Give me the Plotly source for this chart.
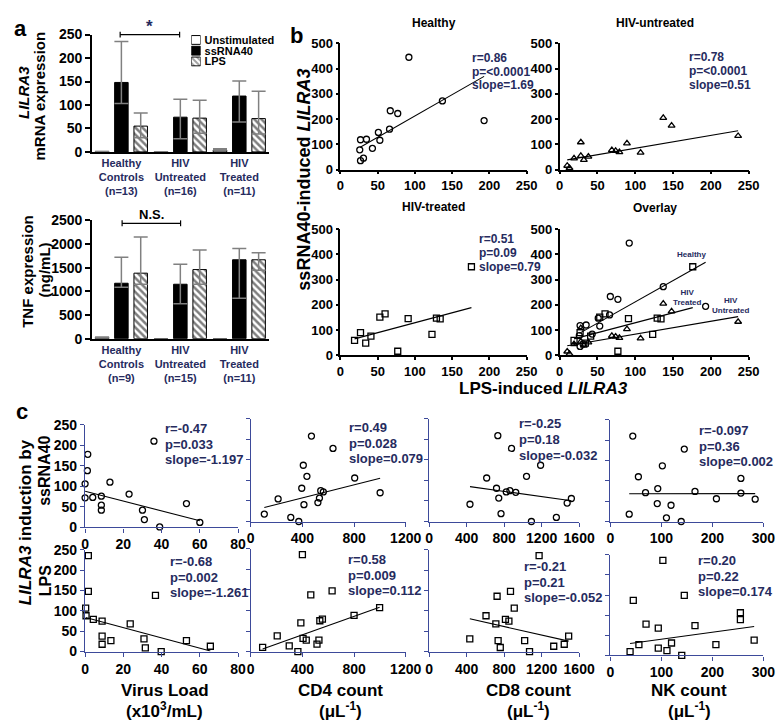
import plotly.graph_objects as go

W, H = 784, 720
FONT = "Liberation Sans, Arial, sans-serif"
NAVY = "#262b5e"
AXBLUE = "#3d4a9a"
ERRGREY = "#808080"

# ---------------- panel a data ----------------
stimuli = ["Unstimulated", "ssRNA40", "LPS"]
groups_mrna = ["Healthy<br>Controls<br>(n=13)", "HIV<br>Untreated<br>(n=16)", "HIV<br>Treated<br>(n=11)"]
groups_tnf = ["Healthy<br>Controls<br>(n=9)", "HIV<br>Untreated<br>(n=15)", "HIV<br>Treated<br>(n=11)"]

mrna_mean = {"Unstimulated": [1, 0.5, 4], "ssRNA40": [148, 74, 119], "LPS": [55, 72, 71]}
mrna_hi = {"Unstimulated": [None, None, 7], "ssRNA40": [235, 112, 151], "LPS": [83, 110, 129]}
mrna_lo = {"Unstimulated": [None, None, 4], "ssRNA40": [103, 28, 64], "LPS": [30, 40, 38]}

tnf_mean = {"Unstimulated": [25, 0, 0], "ssRNA40": [1171, 1150, 1667], "LPS": [1384, 1460, 1667]}
tnf_hi = {"Unstimulated": [35, None, None], "ssRNA40": [1722, 1570, 1908], "LPS": [2149, 1873, 1818]}
tnf_lo = {"Unstimulated": [None, None, None], "ssRNA40": [1088, 737, 854], "LPS": [1150, 1150, 1446]}

# ---------------- panel b data ----------------
healthy_lps = [92, 27, 35, 26, 27, 31, 43, 51, 53, 67, 66, 77, 137, 193]
healthy_ss = [445, 118, 120, 78, 35, 45, 84, 147, 116, 233, 160, 222, 272, 194]
untreated_lps = [10, 13, 19, 28, 28, 32, 38, 69, 74, 79, 89, 107, 137, 148, 236]
untreated_ss = [15, 6, 44, 108, 54, 38, 51, 77, 74, 69, 104, 67, 205, 174, 133]
treated_lps = [19, 27, 34, 41, 53, 60, 77, 91, 123, 129, 134, 176]
treated_ss = [59, 90, 48, 76, 151, 164, 16, 145, 83, 147, 144, 351]
b_fit = {"Healthy": (1.69, 43), "Untreated": (0.51, 33), "Treated": (0.79, 50)}
b_stats = {"Healthy": ["r=0.86", "p=<0.0001", "slope=1.69"],
           "Untreated": ["r=0.78", "p=<0.0001", "slope=0.51"],
           "Treated": ["r=0.51", "p=0.09", "slope=0.79"]}

# ---------------- panel c data ----------------
vl_ss_x = [36, 1.4, 1.2, 0, 0, 4, 8.5, 8.5, 8.5, 13, 23, 30, 31, 39, 53, 60]
vl_ss_y = [210, 178, 138, 106, 72, 73, 76, 54, 42, 110, 81, 42, 19, 1, 58, 12]
cd4_ss_x = [105, 212, 310, 372, 395, 407, 412, 435, 470, 520, 532, 542, 562, 637, 805, 1002]
cd4_ss_y = [18, 55, 10, 0, 81, 137, 41, 110, 208, 46, 57, 75, 72, 178, 106, 70]
cd8_ss_x = [436, 614, 719, 733, 743, 767, 823, 862, 879, 924, 1039, 1091, 1189, 1357, 1472, 1517]
cd8_ss_y = [42, 106, 81, 209, 57, 19, 72, 75, 178, 71, 110, 0, 137, 10, 45, 56]
nk_ss_x = [37, 44, 55, 69, 92, 93, 102, 110, 119, 139, 145, 166, 208, 256, 256, 284]
nk_ss_y = [18, 210, 110, 71, 44, 81, 137, 9, 40, 0, 178, 74, 56, 106, 70, 55]

vl_lps_x = [1.7, 1.7, 0.3, 0.5, 4.3, 8.9, 8.9, 8.9, 13.5, 23.6, 30.8, 31.5, 36.8, 39.8, 53, 65.5]
vl_lps_y = [236, 148, 107, 88, 79, 75, 38, 18, 27, 68, 31, 9, 138, 0, 27, 13]
cd4_lps_x = [92, 205, 298, 365, 388, 400, 405, 430, 465, 513, 528, 535, 555, 630, 800, 998]
cd4_lps_y = [10, 38, 14, 0, 70, 236, 32, 28, 138, 18, 28, 75, 79, 148, 88, 107]
cd8_lps_x = [434, 607, 712, 725, 736, 759, 814, 851, 868, 908, 1019, 1071, 1173, 1329, 1441, 1488]
cd8_lps_y = [31, 88, 68, 136, 27, 10, 79, 75, 148, 107, 27, 0, 236, 13, 18, 38]
nk_lps_x = [38.7, 45, 56, 70, 94, 94, 103, 111, 120, 140, 145, 166, 207, 255, 255, 282]
nk_lps_y = [9.6, 137, 27, 78, 68, 18, 236, 12, 31, 0, 149, 74, 27, 106, 89, 38]

c_fit_ss = [(-1.197, 88), (0.079, 26), (-0.032, 99), (0.002, 68)]
c_fit_lps = [(-1.261, 84), (0.112, -4), (-0.052, 103), (0.174, 23)]
c_stats_ss = [["r=-0.47", "p=0.033", "slope=-1.197"], ["r=0.49", "p=0.028", "slope=0.079"],
              ["r=-0.25", "p=0.18", "slope=-0.032"], ["r=-0.097", "p=0.36", "slope=0.002"]]
c_stats_lps = [["r=-0.68", "p=0.002", "slope=-1.261"], ["r=0.58", "p=0.009", "slope=0.112"],
               ["r=-0.21", "p=0.21", "slope=-0.052"], ["r=0.20", "p=0.22", "slope=0.174"]]
c_xranges = [(0, 80, 20), (0, 1200, 400), (0, 1600, 400), (0, 300, 100)]
c_xtitles = [("Virus Load", "(x10<sup>3</sup>/mL)"), ("CD4 count", "(μL<sup>-1</sup>)"),
             ("CD8 count", "(μL<sup>-1</sup>)"), ("NK count", "(μL<sup>-1</sup>)")]


# ---------------- helpers ----------------
def dx(p0, p1):
    return [p0 / W, p1 / W]


def dy(top, bottom):
    return [1 - bottom / H, 1 - top / H]


def diff(hi, mean):
    return [None if h is None else h - m for h, m in zip(hi, mean)]


def diffm(lo, mean):
    return [None if l is None else m - l for l, m in zip(lo, mean)]


def ann(text, px, py, size, color="black", xanchor="center", yanchor="middle", angle=0, weight="bold"):
    return dict(text=text, x=px / W, y=1 - py / H, xref="paper", yref="paper", showarrow=False,
                font=dict(family=FONT, size=size, color=color, weight=weight),
                xanchor=xanchor, yanchor=yanchor, textangle=angle)


def fit_line(xs, slope, intercept):
    x0, x1 = min(xs), max(xs)
    return [x0, x1], [intercept + slope * x0, intercept + slope * x1]


fig = go.Figure()
layout = {}
annotations = []
shapes = []


def axname(n, kind):
    return f"{kind}axis" if n == 1 else f"{kind}axis{n}"


def ref(n, kind):
    return kind if n == 1 else f"{kind}{n}"


# ---------------- panel a ----------------
def bar_panel(n, groups, mean, hi, lo, ydom, yrange, dtick):
    for s in stimuli:
        marker = dict(color="white", line=dict(color="black", width=1))
        if s == "ssRNA40":
            marker = dict(color="black", line=dict(color="black", width=1))
        if s == "LPS":
            marker = dict(color="white", line=dict(color="black", width=1),
                          pattern=dict(shape="\\", fgcolor="black", bgcolor="white", size=5, solidity=0.5))
        fig.add_trace(go.Bar(
            x=groups, y=mean[s], name=s, marker=marker, showlegend=False,
            xaxis=ref(n, "x"), yaxis=ref(n, "y"),
            error_y=dict(type="data", symmetric=False, array=diff(hi[s], mean[s]),
                         arrayminus=diffm(lo[s], mean[s]), color=ERRGREY, thickness=1.5, width=7)))
    layout[axname(n, "x")] = dict(domain=dx(82, 263.5), anchor=ref(n, "y"), type="category",
                                  range=[-0.5, 2.5], showline=True, linecolor="black", linewidth=1.5,
                                  ticks="", showgrid=False, zeroline=False,
                                  tickfont=dict(family=FONT, size=11, color=NAVY, weight="bold"))
    layout[axname(n, "y")] = dict(domain=ydom, anchor=ref(n, "x"), range=yrange, dtick=dtick,
                                  showline=True, linecolor="black", linewidth=1.5, ticks="outside",
                                  ticklen=5, tickwidth=1.5, tickcolor="black", showgrid=False, zeroline=False,
                                  tickfont=dict(family=FONT, size=14, color="black", weight="bold"))


bar_panel(1, groups_mrna, mrna_mean, mrna_hi, mrna_lo, dy(19, 139), [0, 250], 50)
bar_panel(2, groups_tnf, tnf_mean, tnf_hi, tnf_lo, dy(209, 330), [0, 2500], 500)

# legend keys as a tiny bar subplot
fig.add_trace(go.Bar(
    y=stimuli, x=[1, 1, 1], orientation="h", width=0.82, showlegend=False,
    marker=dict(color=["white", "black", "white"], line=dict(color="black", width=1),
                pattern=dict(shape=["", "", "\\"], fgcolor="black", bgcolor="white", size=4, solidity=0.5)),
    xaxis="x3", yaxis="y3"))
layout["xaxis3"] = dict(domain=dx(184, 193.5), anchor="y3", range=[0, 1], visible=False)
layout["yaxis3"] = dict(domain=dy(19, 52), anchor="x3", type="category", autorange="reversed",
                        tickmode="array", tickvals=stimuli, ticktext=stimuli,
                        side="right", showline=False, ticks="", showgrid=False, zeroline=False,
                        ticklabelstandoff=3,
                        tickfont=dict(family=FONT, size=11, color="black", weight="bold"))

# significance brackets
for (x0, x1, yb, label, ly, size, col) in [(111, 172, 19, "*", 11, 17, NAVY),
                                           (113, 173, 212, "N.S.", 203, 13, "black")]:
    shapes.append(dict(type="line", xref="paper", yref="paper", x0=x0 / W, x1=x1 / W,
                       y0=1 - yb / H, y1=1 - yb / H, line=dict(color="black", width=1.2)))
    for xx in (x0, x1):
        shapes.append(dict(type="line", xref="paper", yref="paper", x0=xx / W, x1=xx / W,
                           y0=1 - (yb - 3) / H, y1=1 - (yb + 3) / H, line=dict(color="black", width=1.2)))
    annotations.append(ann(label, (x0 + x1) / 2, ly, size, color=col))

annotations += [
    ann("<i>LILRA3</i>", 12, 78, 15, angle=-90),
    ann("mRNA expression", 28, 82, 15, angle=-90),
    ann("TNF expression", 16, 261, 15, angle=-90),
    ann("(ng/mL)", 33, 260, 15, angle=-90),
    ann("a", 9, 13, 22),
    ann("b", 292, 20, 22),
    ann("c", 10, 404, 22),
]

# ---------------- panel b ----------------
b_groups = {
    "Healthy": (healthy_lps, healthy_ss, "circle-open"),
    "Untreated": (untreated_lps, untreated_ss, "triangle-up-open"),
    "Treated": (treated_lps, treated_ss, "square-open"),
}
b_panels = [
    (4, ["Healthy"], dx(337, 528), dy(28, 157)),
    (5, ["Untreated"], dx(562, 756), dy(28, 157)),
    (6, ["Treated"], dx(337, 528), dy(218, 347)),
    (7, ["Healthy", "Treated", "Untreated"], dx(562, 756), dy(218, 347)),
]
for n, keys, xd, yd in b_panels:
    for k in keys:
        xs, ys, sym = b_groups[k]
        fig.add_trace(go.Scatter(x=xs, y=ys, mode="markers", showlegend=False, cliponaxis=False,
                                 marker=dict(symbol=sym, size=6, color="black", line=dict(width=1.3)),
                                 xaxis=ref(n, "x"), yaxis=ref(n, "y")))
        lx, ly = fit_line(xs, *b_fit[k])
        fig.add_trace(go.Scatter(x=lx, y=ly, mode="lines", showlegend=False, cliponaxis=False,
                                 line=dict(color="black", width=1.1),
                                 xaxis=ref(n, "x"), yaxis=ref(n, "y")))
    common = dict(showline=True, linecolor="black", linewidth=1.5, ticks="outside", ticklen=3,
                  tickwidth=1.5, tickcolor="black", showgrid=False, zeroline=False,
                  tickfont=dict(family=FONT, size=13, color="black", weight="bold"))
    layout[axname(n, "x")] = dict(domain=xd, anchor=ref(n, "y"), range=[0, 250], dtick=50, **common)
    layout[axname(n, "y")] = dict(domain=yd, anchor=ref(n, "x"), range=[0, 500], dtick=100, **common)

annotations += [
    ann("Healthy", 433, 7, 12),
    ann("HIV-untreated", 660, 7, 12),
    ann("HIV-treated", 433, 195, 12),
    ann("Overlay", 660, 196, 12),
    ann("ssRNA40-induced <i>LILRA3</i>", 300, 167, 18, angle=-90),
    ann("LPS-induced <i>LILRA3</i>", 545, 381, 17),
    ann("Healthy", 697, 244, 8, color=NAVY),
    ann("HIV<br>Treated", 693, 288, 8, color=NAVY),
    ann("HIV<br>Untreated", 737, 296, 8, color=NAVY),
]


def stat_lines(lines, px, py0, spacing, size):
    for i, t in enumerate(lines):
        annotations.append(ann(t, px, py0 + i * spacing, size, color=NAVY, xanchor="left"))


stat_lines(b_stats["Healthy"], 470, 43, 14, 12)
stat_lines(b_stats["Untreated"], 693, 42, 14.5, 12)
stat_lines(b_stats["Treated"], 477, 228, 14.5, 12)

# ---------------- panel c ----------------
c_cols_x = [(75, 232), (245, 404), (428, 582), (614, 771)]
c_row1_y = [(418, 523), (412, 517), (412, 517), (413, 517)]
c_row2_y = [(546, 650), (545, 650), (546, 650), (551, 654)]
c_row1_data = [(vl_ss_x, vl_ss_y), (cd4_ss_x, cd4_ss_y), (cd8_ss_x, cd8_ss_y), (nk_ss_x, nk_ss_y)]
c_row2_data = [(vl_lps_x, vl_lps_y), (cd4_lps_x, cd4_lps_y), (cd8_lps_x, cd8_lps_y), (nk_lps_x, nk_lps_y)]
c_stat_pos_r1 = [(155, 422), (344, 421), (518, 417), (703, 424)]
c_stat_pos_r2 = [(160, 558), (343, 556), (523, 563), (702, 557)]

n = 8
for row, (ydoms, data, fits, stats, sym, spos) in enumerate([
        (c_row1_y, c_row1_data, c_fit_ss, c_stats_ss, "circle-open", c_stat_pos_r1),
        (c_row2_y, c_row2_data, c_fit_lps, c_stats_lps, "square-open", c_stat_pos_r2)]):
    for col in range(4):
        xs, ys = data[col]
        fig.add_trace(go.Scatter(x=xs, y=ys, mode="markers", showlegend=False, cliponaxis=False,
                                 marker=dict(symbol=sym, size=6, color="black", line=dict(width=1.3)),
                                 xaxis=ref(n, "x"), yaxis=ref(n, "y")))
        lx, ly = fit_line(xs, *fits[col])
        fig.add_trace(go.Scatter(x=lx, y=ly, mode="lines", showlegend=False, cliponaxis=False,
                                 line=dict(color="black", width=1.1),
                                 xaxis=ref(n, "x"), yaxis=ref(n, "y")))
        common = dict(showline=True, linecolor=AXBLUE, linewidth=1.3, ticks="outside", ticklen=4,
                      tickwidth=1.3, tickcolor=AXBLUE, showgrid=False, zeroline=False,
                      tickfont=dict(family=FONT, size=14, color="black", weight="bold"))
        x0, x1, xd = c_xranges[col]
        layout[axname(n, "x")] = dict(domain=dx(*c_cols_x[col]), anchor=ref(n, "y"),
                                      range=[x0, x1], dtick=xd, **common)
        layout[axname(n, "y")] = dict(domain=dy(*ydoms[col]), anchor=ref(n, "x"), range=[0, 250], dtick=50,
                                      showticklabels=(col == 0), **common)
        stat_lines(stats[col], spos[col][0], spos[col][1], 16, 13)
        n += 1

for col, (t1, t2) in enumerate(c_xtitles):
    cx = [157, 337, 530, 695][col]
    annotations.append(ann(t1, cx, 690, 17))
    annotations.append(ann(t2, cx, 710, 17))

annotations += [
    ann("<i>LILRA3</i> induction by", 14, 518, 17, angle=-90),
    ann("ssRNA40", 34, 465, 16, angle=-90),
    ann("LPS", 34, 578, 16, angle=-90),
]

fig.update_layout(
    width=W, height=H, margin=dict(l=0, r=0, t=0, b=0),
    paper_bgcolor="white", plot_bgcolor="rgba(0,0,0,0)",
    font=dict(family=FONT, color="black"),
    barmode="group", bargap=0.017, bargroupgap=0.3,
    showlegend=False, annotations=annotations, shapes=shapes,
    **layout)

fig.write_html("out.html")
